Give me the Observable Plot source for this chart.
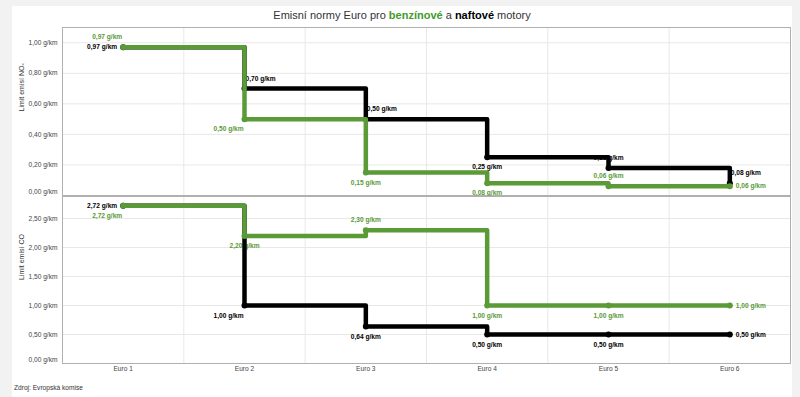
<!DOCTYPE html>
<html><head><meta charset="utf-8">
<script src="https://cdn.jsdelivr.net/npm/d3@7"></script>
<script src="https://cdn.jsdelivr.net/npm/@observablehq/plot@0.6"></script>
<style>
body{margin:0;width:800px;height:397px;overflow:hidden;background:#f2f2f2;font-family:"Liberation Sans",Arial,sans-serif;position:relative}
#card{position:absolute;left:12px;top:6px;width:780px;height:391px;background:#fff}
#title{position:absolute;left:12px;width:780px;top:8px;text-align:center;font-size:11px;color:#333;line-height:14px}
#source{position:absolute;left:14px;top:384px;font-size:6.6px;color:#333}
.pane{position:absolute;left:0}
</style></head><body>
<div id="card"></div>
<div id="title">Emisní normy Euro pro <b style="color:#3f9b2a">benzínové</b> a <b style="color:#000">naftové</b> motory</div>
<div id="top" class="pane" style="top:0px"></div>
<div id="bottom" class="pane" style="top:190px"></div>
<div id="source">Zdroj: Evropská komise</div>
<script>
// ---- data ----
const categories = ["Euro 1", "Euro 2", "Euro 3", "Euro 4", "Euro 5", "Euro 6"];
const noxPetrol = [0.97, 0.50, 0.15, 0.08, 0.06, 0.06];
const noxDiesel = [0.97, 0.70, 0.50, 0.25, 0.18, 0.08];
const coPetrol = [2.72, 2.20, 2.30, 1.00, 1.00, 1.00];
const coDiesel = [2.72, 1.00, 0.64, 0.50, 0.50, 0.50];
const noxTicks = [0, 0.2, 0.4, 0.6, 0.8, 1.0];
const coTicks = [0, 0.5, 1.0, 1.5, 2.0, 2.5];
const noxLabel = "Limit emisí NOₓ";
const coLabel = "Limit emisí CO";

// ---- styling ----
const GREEN = "#5a9a37", BLACK = "#000";
const FONT = "Liberation Sans, Arial, sans-serif";
const fmt = v => d3.format(".2f")(v).replace(".", ",") + " g/km";
const place = {
  L: {dx: -6, dy: 0, textAnchor: "end"},
  R: {dx: 6, dy: 0, textAnchor: "start"},
  A: {dx: 0, dy: -10, textAnchor: "middle"},
  B: {dx: 0, dy: 10, textAnchor: "middle"},
  UL: {dx: -16, dy: -10, textAnchor: "middle"},
  BL: {dx: -16, dy: 10, textAnchor: "middle"},
  AR: {dx: 1, dy: -10, textAnchor: "start"}
};
function rows(values, places) { return values.map((v, i) => ({x: i + 1, v, p: places[i]})); }
function labelMarks(data, color) {
  return Object.entries(place).map(([k, o]) =>
    Plot.text(data.filter(d => d.p === k), {x: "x", y: "v", text: d => fmt(d.v), fill: color, fontWeight: "bold", fontSize: 6.6, ...o}));
}
function panel(o) {
  const n = categories.length;
  const p = rows(o.petrol, o.petrolPlace), dd = rows(o.diesel, o.dieselPlace);
  const lineOpts = {x: "x", y: "v", curve: "step-after", strokeWidth: 4.5, strokeLinejoin: "round", strokeLinecap: "round"};
  return Plot.plot({
    width: 800, height: o.height, marginLeft: 62, marginRight: 10, marginTop: o.marginTop, marginBottom: o.marginBottom,
    style: {background: "transparent", fontFamily: FONT, fontSize: "6.6px", overflow: "visible"},
    x: {type: "linear", domain: [0.5, n + 0.5], label: null, axis: o.showX ? undefined : null},
    y: {domain: o.domain, label: null},
    marks: [
      Plot.gridY(o.ticks, {stroke: "#e8e8e8", strokeOpacity: 1}),
      Plot.ruleX(d3.range(1.5, n), {stroke: "#e8e8e8"}),
      Plot.frame({stroke: "#b0b0b0"}),
      Plot.axisY(o.ticks.filter(t => t > 0), {tickSize: 0, tickPadding: 5, tickFormat: fmt, fill: "#444", label: null}),
      Plot.axisY([0], {tickSize: 0, tickPadding: 5, tickFormat: fmt, dy: -4, fill: "#444", label: null}),
      ...(o.showX ? [Plot.axisX(d3.range(1, n + 1), {tickSize: 0, tickPadding: 3, tickFormat: d => categories[d - 1], fill: "#444", label: null})] : []),
      Plot.text([o.yLabel], {text: d => d, frameAnchor: "left", dx: -41, rotate: -90, fontSize: 7, fill: "#333"}),
      ...labelMarks(p, GREEN), ...labelMarks(dd, BLACK),
      Plot.line(dd, {...lineOpts, stroke: BLACK}),
      Plot.dot(dd, {x: "x", y: "v", r: 3, fill: BLACK}),
      Plot.line(p, {...lineOpts, stroke: GREEN}),
      Plot.dot(p, {x: "x", y: "v", r: 3, fill: GREEN})
    ]
  });
}
document.getElementById("top").append(panel({
  petrol: noxPetrol, diesel: noxDiesel, ticks: noxTicks, domain: [0, 1.1], yLabel: noxLabel,
  petrolPlace: ["UL", "BL", "B", "B", "A", "R"], dieselPlace: ["L", "AR", "AR", "B", "A", "AR"],
  showX: false, height: 200, marginTop: 27, marginBottom: 5
}));
document.getElementById("bottom").append(panel({
  petrol: coPetrol, diesel: coDiesel, ticks: coTicks, domain: [0, 2.88], yLabel: coLabel,
  petrolPlace: ["BL", "B", "A", "B", "B", "R"], dieselPlace: ["L", "BL", "B", "B", "B", "R"],
  showX: true, height: 190, marginTop: 6, marginBottom: 17
}));
</script>
</body></html>
